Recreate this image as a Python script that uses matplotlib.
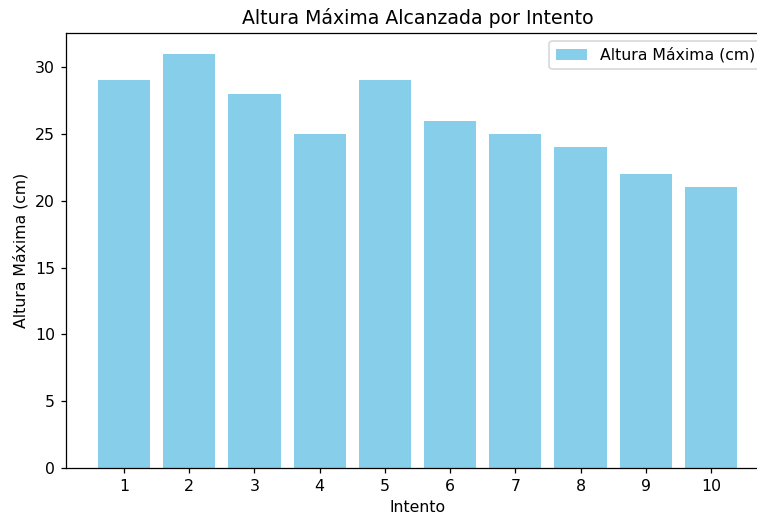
import matplotlib
matplotlib.use("Agg")
import matplotlib.pyplot as plt

intentos = [1, 2, 3, 4, 5, 6, 7, 8, 9, 10]
alturas = [29, 31, 28, 25, 29, 26, 25, 24, 22, 21]

DPI = 113
fig = plt.figure(figsize=(757/DPI, 522/DPI), dpi=DPI)
ax = fig.add_axes([66/757, 54/522, (769-66)/757, (468-33)/522])
ax.bar(intentos, alturas, color="skyblue", label="Altura Máxima (cm)")
ax.set_xticks(intentos)
ax.set_xlabel("Intento")
ax.set_ylabel("Altura Máxima (cm)")
ax.set_title("Altura Máxima Alcanzada por Intento")
ax.legend(loc="upper right")
fig.savefig("out.png", dpi=DPI)
